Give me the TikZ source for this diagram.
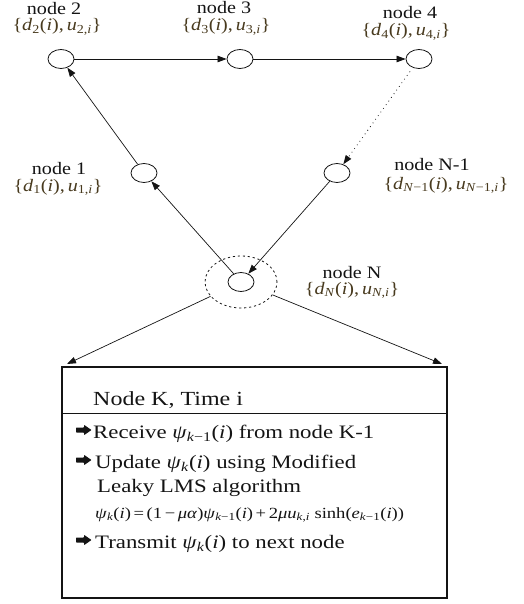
\documentclass[tikz,border=0pt]{standalone}
\usepackage{fontspec}
\setmainfont{Liberation Serif}
\newfontfamily\tms{Liberation Serif}[FakeStretch=1.15]
\newfontfamily\tmsb{Liberation Serif}[FakeStretch=1.2]
\usetikzlibrary{shapes.geometric,arrows.meta,calc}
\definecolor{mathbrown}{RGB}{72,58,30}
\definecolor{ink}{RGB}{20,20,20}
\newcommand\Sb[1]{\textsubscript{#1}}
\newcommand\It[1]{\textit{#1}}
\begin{document}
\begin{tikzpicture}[x=1pt,y=-1pt,
  nd/.style={draw=ink, ellipse, minimum width=26pt, minimum height=19pt, inner sep=0pt, line width=0.8pt},
  lbl/.style={font=\tms\fontsize{17.5}{19}\selectfont, anchor=base, inner sep=0pt, text=ink},
  frm/.style={font=\tms\fontsize{17.5}{19}\selectfont, anchor=base, inner sep=0pt, text=mathbrown},
  arr/.style={draw=ink, -{Triangle[length=9pt,width=6.5pt]}, line width=0.7pt},
  bt/.style={font=\tmsb\fontsize{19}{21}\selectfont, anchor=base west, inner sep=0pt, text=ink},
  blockarrow/.style={fill=ink, rounded corners=0.6pt}]
\useasboundingbox (0,0) rectangle (523,604);

% nodes
\node[nd] (n2) at (61,59) {};
\node[nd] (n3) at (240,59) {};
\node[nd] (n4) at (419,59) {};
\node[nd] (n1) at (144,173) {};
\node[nd] (nN1) at (337,173) {};
\node[nd] (nN) at (241,282) {};
\node[draw=ink, ellipse, line width=0.8pt, dash pattern=on 2.2pt off 2.8pt, minimum width=72pt, minimum height=52pt, inner sep=0pt] (ring) at (241,282) {};

% labels
\node[lbl] (l2) at (54,15) {node 2};
\node[frm] (f2) at (57,31) {\{\It{d}\Sb{2}(\It{i}),\,\It{u}\Sb{2,\It{i}}\}};
\node[lbl] (l3) at (224,14) {node 3};
\node[frm] (f3) at (226,31) {\{\It{d}\Sb{3}(\It{i}),\,\It{u}\Sb{3,\It{i}}\}};
\node[lbl] (l4) at (410,19) {node 4};
\node[frm] (f4) at (406,36) {\{\It{d}\Sb{4}(\It{i}),\,\It{u}\Sb{4,\It{i}}\}};
\node[lbl] (l1) at (59,174) {node 1};
\node[frm] (f1) at (58,191) {\{\It{d}\Sb{1}(\It{i}),\,\It{u}\Sb{1,\It{i}}\}};
\node[lbl] (lN1) at (432,171) {node N-1};
\node[frm] (fN1) at (446,189) {\{\It{d}\Sb{\It{N}−1}(\It{i}),\,\It{u}\Sb{\It{N}−1,\It{i}}\}};
\node[lbl] (lN) at (352,278) {node N};
\node[frm] (fN) at (352,294) {\{\It{d}\Sb{\It{N}}(\It{i}),\,\It{u}\Sb{\It{N},\It{i}}\}};

% connectors
\draw[arr] (nN) -- (n1);
\draw[arr] (n1) -- (n2);
\draw[arr] (n2) -- (n3);
\draw[arr] (n3) -- (n4);
\draw[arr, line width=1.1pt, line cap=round, dash pattern=on 0pt off 4.5pt, shorten <=5pt] (n4) -- (nN1);
\draw[arr] (nN1) -- (nN);

% box
\node[draw=ink, line width=1.1pt, minimum width=385pt, minimum height=231pt, inner sep=0pt] (box) at (254.5,482.5) {};
\coordinate (hl) at (62,413);
\coordinate (hr) at (447,413);
\draw[ink, line width=0.9pt] (hl) -- (hr);
\coordinate (cL) at (67,364);
\coordinate (cR) at (442,364);
\draw[arr] (ring) -- (cL);
\draw[arr] (ring) -- (cR);

\node[bt, font=\tmsb\fontsize{20}{22}\selectfont] (title) at (93,405) {Node K, Time i};

\coordinate (b1) at (76,430);
\coordinate (b2) at (76,460);
\coordinate (b3) at (76,540);
\foreach \b in {b1,b2,b3}{
  \fill[blockarrow] ($(\b)+(0,-2.5)$) -- ++(8,0) -- ++(0,-2.7) -- ++(7.5,5.2) -- ++(-7.5,5.2) -- ++(0,-2.7) -- ++(-8,0) -- cycle;
}
\node[bt] (t1) at (93,438) {Receive \It{ψ}\Sb{\It{k}−1}(\It{i}) from node K-1};
\node[bt] (t2) at (95,468) {Update \It{ψ}\Sb{\It{k}}(\It{i}) using Modified};
\node[bt] (t3) at (97,492) {Leaky LMS algorithm};
\node[bt, font=\tmsb\fontsize{15.5}{17}\selectfont] (t4) at (95,518) {\It{ψ}\Sb{\It{k}}(\It{i})\,=\,(1\,−\,\It{μα})\It{ψ}\Sb{\It{k}−1}(\It{i})\,+\,2\It{μu}\Sb{\It{k},\It{i}} sinh(\It{e}\Sb{\It{k}−1}(\It{i}))};
\node[bt] (t5) at (95,548) {Transmit \It{ψ}\Sb{\It{k}}(\It{i}) to next node};
\end{tikzpicture}
\end{document}
